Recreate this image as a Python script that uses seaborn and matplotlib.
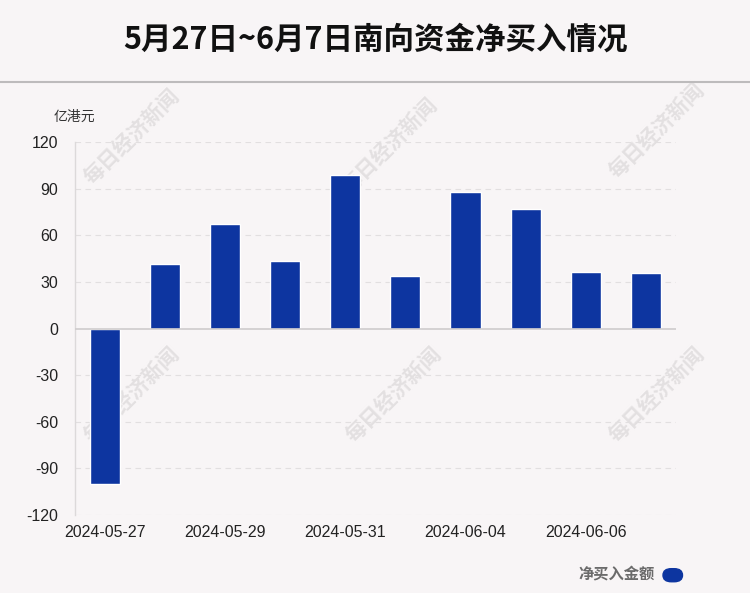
import pandas as pd
import matplotlib.pyplot as plt
import seaborn as sns
from matplotlib.patches import FancyBboxPatch

# 数据
dates = ['2024-05-27', '2024-05-28', '2024-05-29', '2024-05-30', '2024-05-31',
         '2024-06-03', '2024-06-04', '2024-06-05', '2024-06-06', '2024-06-07']
net_buy = [-100.0, 41.3, 67.2, 43.4, 98.6, 33.6, 87.6, 76.7, 36.4, 35.7]
y_ticks = [-120, -90, -60, -30, 0, 30, 60, 90, 120]

bg = '#f8f5f6'
bar_color = '#0d35a0'
cjk = ['Noto Sans CJK SC', 'DejaVu Sans']

sns.set_theme(style='white')
plt.rcParams['font.family'] = ['Liberation Sans', 'Noto Sans CJK SC', 'DejaVu Sans']

df = pd.DataFrame({'日期': dates, '净买入': net_buy})

fig = plt.figure(figsize=(7.5, 5.93), dpi=100, facecolor=bg)
ax = fig.add_axes([0.1, 0.1315, 0.801, 0.629])
ax.set_facecolor('none')

sns.barplot(data=df, x='日期', y='净买入', color=bar_color, width=0.5,
            saturation=1, ax=ax, zorder=3)

ax.set_xlim(-0.5, 9.5)
ax.set_ylim(-120, 120)
ax.set_yticks(y_ticks)
ax.set_yticklabels([str(t) for t in y_ticks], fontsize=11.5, color='#222222')
ax.set_xticks(range(0, len(dates), 2))
ax.set_xticklabels(dates[::2], fontsize=11.5, color='#222222')
ax.tick_params(axis='y', length=0, pad=12)
ax.tick_params(axis='x', length=0, pad=7)
ax.set_xlabel('')
ax.set_ylabel('')

# 网格和轴线
for t in y_ticks:
    if t != 0:
        ax.axhline(t, color='#e2dfe0', lw=0.8, ls=(0, (5, 4)), zorder=1)
ax.axhline(0, color='#cfcccd', lw=1.2, zorder=4)
for s in ['top', 'right', 'bottom']:
    ax.spines[s].set_visible(False)
ax.spines['left'].set_color('#dcd9da')
ax.spines['left'].set_linewidth(1)

# 水印(在柱子后面)
for wx, wy in [(0.175, 0.77), (0.52, 0.755), (0.875, 0.78),
               (0.175, 0.335), (0.525, 0.335), (0.875, 0.335)]:
    ax.text(wx, wy, '每日经济新闻', rotation=45, ha='center', va='center',
            fontsize=15, fontweight='bold', color='#e3e0e1',
            family=cjk, transform=fig.transFigure, zorder=0.5)

# 标题和分隔线
fig.text(0.5, 0.934, '5月27日~6月7日南向资金净买入情况', ha='center', va='center',
         fontsize=22, fontweight='bold', color='#111111', family=cjk)
fig.add_artist(plt.Line2D([0, 1], [0.862, 0.862], color='#bdbbbc', lw=1.5))

# 单位
fig.text(0.072, 0.797, '亿港元', fontsize=10, color='#333333', family=cjk)

# 图例
fig.text(0.873, 0.033, '净买入金额', ha='right', va='center', fontsize=11,
         fontweight='bold', color='#6b6b6b', family=cjk)
fig.add_artist(FancyBboxPatch((0.884, 0.019), 0.026, 0.022,
                              boxstyle='round,pad=0,rounding_size=0.011',
                              transform=fig.transFigure, color=bar_color))

fig.savefig('out.png', dpi=100, facecolor=bg)
